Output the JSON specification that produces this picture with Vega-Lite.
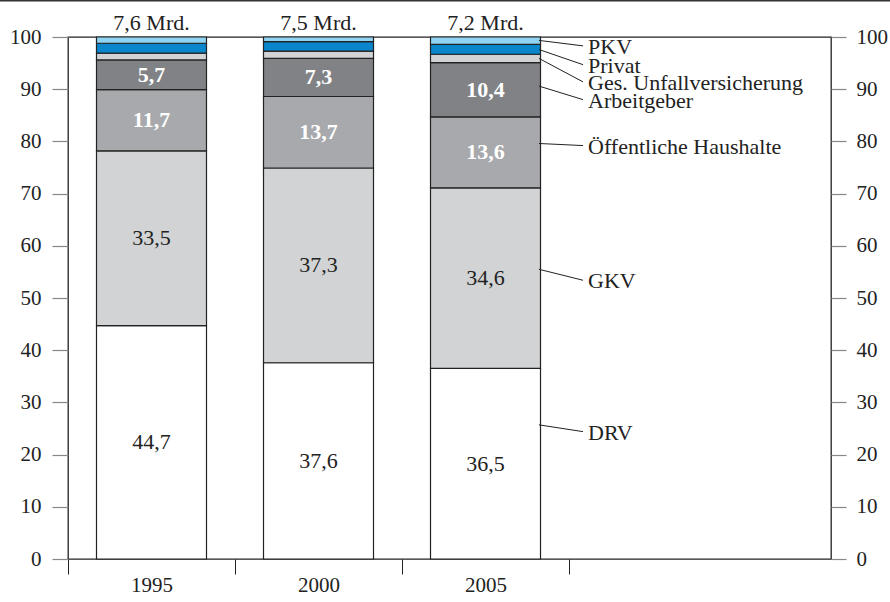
{
  "$schema": "https://vega.github.io/schema/vega-lite/v6.json",
  "autosize": {"type": "none"},
  "padding": {"left": 68, "top": 37, "right": 59, "bottom": 43},
  "width": 763,
  "height": 522,
  "background": "white",
  "config": {
    "font": "Liberation Serif",
    "view": {"stroke": "#222", "strokeWidth": 1.3},
    "axis": {"labelFont": "Liberation Serif", "labelFontSize": 21, "labelColor": "#222", "domain": false, "grid": false, "labelFlush": false, "labelOverlap": false},
    "text": {"font": "Liberation Serif", "fontSize": 22}
  },
  "datasets": {
    "shares": [
      {"year": 1995, "category": "DRV", "value": 44.7},
      {"year": 1995, "category": "GKV", "value": 33.5},
      {"year": 1995, "category": "Öffentliche Haushalte", "value": 11.7},
      {"year": 1995, "category": "Arbeitgeber", "value": 5.7},
      {"year": 1995, "category": "Ges. Unfallversicherung", "value": 1.3},
      {"year": 1995, "category": "Privat", "value": 1.9},
      {"year": 1995, "category": "PKV", "value": 1.2},
      {"year": 2000, "category": "DRV", "value": 37.6},
      {"year": 2000, "category": "GKV", "value": 37.3},
      {"year": 2000, "category": "Öffentliche Haushalte", "value": 13.7},
      {"year": 2000, "category": "Arbeitgeber", "value": 7.3},
      {"year": 2000, "category": "Ges. Unfallversicherung", "value": 1.4},
      {"year": 2000, "category": "Privat", "value": 1.8},
      {"year": 2000, "category": "PKV", "value": 0.9},
      {"year": 2005, "category": "DRV", "value": 36.5},
      {"year": 2005, "category": "GKV", "value": 34.6},
      {"year": 2005, "category": "Öffentliche Haushalte", "value": 13.6},
      {"year": 2005, "category": "Arbeitgeber", "value": 10.4},
      {"year": 2005, "category": "Ges. Unfallversicherung", "value": 1.6},
      {"year": 2005, "category": "Privat", "value": 1.9},
      {"year": 2005, "category": "PKV", "value": 1.4}
    ],
    "totals": [
      {"year": 1995, "total": 7.6},
      {"year": 2000, "total": 7.5},
      {"year": 2005, "total": 7.2}
    ],
    "notes": [
      {"category": "PKV", "lineY": 99.35, "labelY": 98.3},
      {"category": "Privat", "lineY": 97.6, "labelY": 94.7},
      {"category": "Ges. Unfallversicherung", "lineY": 95.9, "labelY": 91.4},
      {"category": "Arbeitgeber", "lineY": 90.6, "labelY": 88.0},
      {"category": "Öffentliche Haushalte", "lineY": 79.6, "labelY": 79.2},
      {"category": "GKV", "lineY": 55.5, "labelY": 53.4},
      {"category": "DRV", "lineY": 25.7, "labelY": 24.4}
    ]
  },
  "layer": [
    {
      "data": {"name": "shares"},
      "transform": [
        {"window": [{"op": "row_number", "as": "idx"}]},
        {"stack": "value", "groupby": ["year"], "sort": [{"field": "idx"}], "as": ["v0", "v1"]}
      ],
      "mark": {"type": "bar", "width": 110, "stroke": "#222", "strokeWidth": 1.2},
      "encoding": {
        "x": {
          "field": "year", "type": "quantitative", "title": null,
          "scale": {"domain": [1992.5, 2015.344], "nice": false, "zero": false, "padding": 0},
          "axis": {
            "values": [1992.5, 1995, 1997.5, 2000, 2002.5, 2005, 2007.5],
            "tickSize": 15, "tickColor": "#222", "tickWidth": 1,
            "tickOpacity": {"condition": {"test": "datum.value % 5 == 0", "value": 0}, "value": 1},
            "labelExpr": "datum.value % 5 == 0 ? format(datum.value, 'd') : ''",
            "labelPadding": 0
          }
        },
        "y": {
          "field": "v0", "type": "quantitative", "title": null,
          "scale": {"domain": [0, 100], "nice": false},
          "axis": {"orient": "left", "values": [0, 10, 20, 30, 40, 50, 60, 70, 80, 90, 100], "tickSize": 16, "tickColor": "#888", "tickWidth": 1.2, "labelPadding": 11}
        },
        "y2": {"field": "v1"},
        "color": {
          "field": "category", "type": "nominal", "legend": null,
          "scale": {
            "domain": ["DRV", "GKV", "Öffentliche Haushalte", "Arbeitgeber", "Ges. Unfallversicherung", "Privat", "PKV"],
            "range": ["#ffffff", "#d1d3d4", "#a7a9ac", "#808285", "#d1d3d4", "#0a86cd", "#8fd4f2"]
          }
        }
      }
    },
    {
      "data": {"name": "shares"},
      "transform": [
        {"window": [{"op": "row_number", "as": "idx"}]},
        {"stack": "value", "groupby": ["year"], "sort": [{"field": "idx"}], "as": ["v0", "v1"]},
        {"calculate": "(datum.v0 + datum.v1) / 2", "as": "mid"},
        {"calculate": "replace(format(datum.value, '.1f'), '.', ',')", "as": "label"},
        {"filter": "datum.category == 'DRV' || datum.category == 'GKV'"}
      ],
      "mark": {"type": "text", "baseline": "middle", "align": "center", "color": "#222"},
      "encoding": {
        "x": {"field": "year", "type": "quantitative", "scale": {"domain": [1992.5, 2015.344], "nice": false, "zero": false, "padding": 0}, "axis": null},
        "y": {
          "field": "mid", "type": "quantitative", "title": null,
          "scale": {"domain": [0, 100], "nice": false},
          "axis": {"orient": "right", "values": [0, 10, 20, 30, 40, 50, 60, 70, 80, 90, 100], "tickSize": 15, "tickColor": "#888", "tickWidth": 1.2, "labelPadding": 10}
        },
        "text": {"field": "label"}
      }
    },
    {
      "data": {"name": "shares"},
      "transform": [
        {"window": [{"op": "row_number", "as": "idx"}]},
        {"stack": "value", "groupby": ["year"], "sort": [{"field": "idx"}], "as": ["v0", "v1"]},
        {"calculate": "(datum.v0 + datum.v1) / 2", "as": "mid"},
        {"calculate": "replace(format(datum.value, '.1f'), '.', ',')", "as": "label"},
        {"filter": "datum.category == 'Öffentliche Haushalte' || datum.category == 'Arbeitgeber'"}
      ],
      "mark": {"type": "text", "baseline": "middle", "align": "center", "color": "white", "fontWeight": "bold"},
      "encoding": {
        "x": {"field": "year", "type": "quantitative", "scale": {"domain": [1992.5, 2015.344], "nice": false, "zero": false, "padding": 0}, "axis": null},
        "y": {"field": "mid", "type": "quantitative", "scale": {"domain": [0, 100], "nice": false}, "axis": null},
        "text": {"field": "label"}
      }
    },
    {
      "data": {"name": "totals"},
      "transform": [
        {"calculate": "replace(format(datum.total, '.1f'), '.', ',') + ' Mrd.'", "as": "label"}
      ],
      "mark": {"type": "text", "baseline": "alphabetic", "align": "center", "color": "#222", "dy": -7},
      "encoding": {
        "x": {"field": "year", "type": "quantitative", "scale": {"domain": [1992.5, 2015.344], "nice": false, "zero": false, "padding": 0}, "axis": null},
        "y": {"datum": 100, "type": "quantitative", "scale": {"domain": [0, 100], "nice": false}, "axis": null},
        "text": {"field": "label"}
      }
    },
    {
      "data": {"name": "notes"},
      "mark": {"type": "rule", "stroke": "#222", "strokeWidth": 1},
      "encoding": {
        "x": {"datum": 2006.6, "type": "quantitative", "scale": {"domain": [1992.5, 2015.344], "nice": false, "zero": false, "padding": 0}, "axis": null},
        "x2": {"datum": 2007.92},
        "y": {"field": "lineY", "type": "quantitative", "scale": {"domain": [0, 100], "nice": false}, "axis": null},
        "y2": {"field": "labelY"}
      }
    },
    {
      "data": {"name": "notes"},
      "mark": {"type": "text", "baseline": "middle", "align": "left", "color": "#222", "dx": 5, "dy": 1},
      "encoding": {
        "x": {"datum": 2007.92, "type": "quantitative", "scale": {"domain": [1992.5, 2015.344], "nice": false, "zero": false, "padding": 0}, "axis": null},
        "y": {"field": "labelY", "type": "quantitative", "scale": {"domain": [0, 100], "nice": false}, "axis": null},
        "text": {"field": "category"}
      }
    },
    {
      "data": {"values": [{}]},
      "mark": {"type": "rule", "stroke": "#333", "strokeWidth": 2},
      "encoding": {
        "x": {"datum": 1990.3, "type": "quantitative", "scale": {"domain": [1992.5, 2015.344], "nice": false, "zero": false, "padding": 0}, "axis": null},
        "x2": {"datum": 2017.3},
        "y": {"datum": 107.0, "type": "quantitative", "scale": {"domain": [0, 100], "nice": false}, "axis": null}
      }
    }
  ],
  "resolve": {"axis": {"x": "independent", "y": "independent"}}
}
